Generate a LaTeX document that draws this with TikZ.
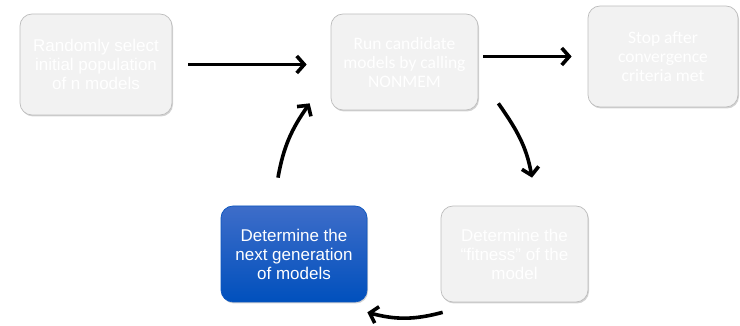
\documentclass[tikz,border=0pt]{standalone}
\usepackage{fontspec}
\setsansfont{Liberation Sans}
\newfontfamily\calfont{Carlito}
\usepackage{xcolor}
\usepackage{tikz}
\usetikzlibrary{shapes,arrows.meta,positioning,calc,shadows}
\definecolor{boxgray}{HTML}{F2F2F2}
\definecolor{boxline}{HTML}{BDBDBD}
\definecolor{bluetop}{HTML}{3E6DC9}
\definecolor{bluebot}{HTML}{0050BD}
\tikzstyle{stage} = [draw=boxline, line width=0.7pt, rectangle, rounded corners=12pt,
    fill=boxgray, text=white, align=center, inner sep=0pt,
    drop shadow={shadow xshift=1pt, shadow yshift=-1.5pt, opacity=0.35},
    font=\sffamily\fontsize{17}{19}\selectfont]
\tikzstyle{current} = [stage, draw=bluebot!80!bluetop, top color=bluetop, bottom color=bluebot]
\tikzstyle{calibri} = [font=\calfont\fontsize{17.5}{19}\selectfont]
\tikzstyle{coord} = [coordinate]
\tikzstyle{connector} = [-{Straight Barb[length=7.5pt,width=17pt]}, line width=3.6pt]

\begin{document}
\begin{tikzpicture}[x=1pt,y=1pt]
		\useasboundingbox (0,0) rectangle (740,326);
		
		\node[stage, minimum width=152pt, minimum height=101pt] (init) at (96,261.5) {Randomly select\\initial population\\of n models};
		\node[stage, calibri, minimum width=147pt, minimum height=96pt] (run) at (404.5,264) {Run candidate\\models by calling\\NONMEM};
		\node[stage, calibri, minimum width=150pt, minimum height=101pt] (stop) at (663,269.5) {Stop after\\convergence\\criteria met};
		\node[current, minimum width=146pt, minimum height=96pt] (nextgen) at (294,72) {Determine the\\next generation\\of models};
		\node[stage, minimum width=147pt, minimum height=96pt] (fitness) at (514.5,72) {Determine the\\“fitness” of the\\model};
		
		\node[coord, above right=7pt and 20pt of run.south east] (runout) {};
		\node[coord, above right=28pt and 17.5pt of fitness.north] (fitin) {};
		\node[coord, below right=10pt and 2pt of fitness.south west] (fitout) {};
		\node[coord, below=10pt of nextgen.south east] (genin) {};
		\node[coord, above left=28pt and 16pt of nextgen.north] (genout) {};
		\node[coord, above left=7pt and 21pt of run.south west] (runin) {};
		
		\draw[connector, shorten <=16pt, shorten >=24pt] (init.east) to (init.east -| run.west);
		\draw[connector, shorten <=5pt, shorten >=16pt] (stop.west -| run.east) to (stop.west);
		\draw[connector] (runout) to[out=-55, in=100] (fitin);
		\draw[connector] (fitout) to[out=195, in=-15] (genin);
		\draw[connector] (genout) to[out=80, in=235] (runin);
	\end{tikzpicture}
\end{document}
